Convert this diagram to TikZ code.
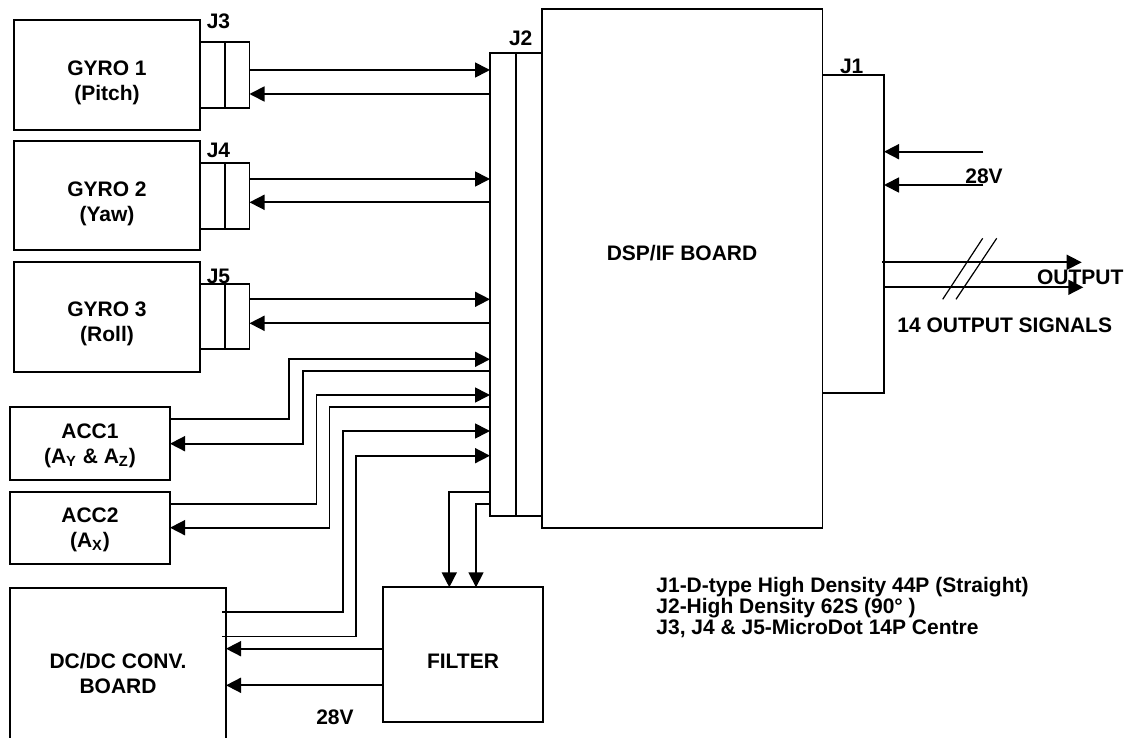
\documentclass[tikz,border=0pt]{standalone}
\usepackage{fontspec}
\setmainfont{Liberation Sans}
\usetikzlibrary{arrows.meta}

\tikzset{
    blk/.style={draw, line width=0.85pt, rectangle, inner sep=0pt, outer sep=0pt, anchor=north west},
    txt/.style={font=\bfseries\fontsize{10.5}{12.5}\selectfont, align=center, inner sep=0pt},
    note/.style={font=\bfseries\fontsize{10.5}{10}\selectfont, inner sep=0pt, anchor=base west},
    sig/.style={line width=0.85pt, -{Triangle[length=7.5pt,width=7.5pt]}},
    wire/.style={line width=0.85pt},
    bus/.style={line width=0.6pt},
}

\begin{document}
\begin{tikzpicture}[x=0.5pt, y=-0.5pt]
    % Frame (pixel grid of the drawing, y going down)
    \useasboundingbox (0,0) rectangle (1126,738);
    \clip (0,0) rectangle (1126,738);

    % Sensor boxes
    \node[blk, minimum width=93pt, minimum height=55pt] (gyroA) at (14,20) {};
    \node[blk, minimum width=93pt, minimum height=54.5pt] (gyroB) at (14,141) {};
    \node[blk, minimum width=93pt, minimum height=55pt] (gyroC) at (14,262) {};
    \node[blk, minimum width=80pt, minimum height=36.35pt] (acca) at (10,407.3) {};
    \node[blk, minimum width=80pt, minimum height=36pt] (accb) at (10,492) {};

    % Power boxes (DC/DC runs off the bottom)
    \node[blk, minimum width=108pt, minimum height=85pt] (dcdc) at (10,588.3) {};
    \node[blk, minimum width=80pt, minimum height=67.5pt] (filter) at (383,587.3) {};

    % Connectors J3, J4, J5
    \node[blk, minimum width=24.75pt, minimum height=33pt] (jthree) at (200,42) {};
    \node[blk, minimum width=24.75pt, minimum height=33pt] (jfour) at (200,163) {};
    \node[blk, minimum width=24.75pt, minimum height=32.5pt] (jfive) at (200,284) {};
    \draw[wire] (jthree.north) -- (jthree.south);
    \draw[wire] (jfour.north) -- (jfour.south);
    \draw[wire] (jfive.north) -- (jfive.south);

    % Main board with J2 and J1
    \node[blk, minimum width=140.25pt, minimum height=259.2pt] (dsp) at (542,9.3) {};
    \node[blk, minimum width=26pt, minimum height=231.5pt] (jtwo) at (490,52.7) {};
    \draw[wire] (jtwo.north) -- (jtwo.south);
    \node[blk, minimum width=30.75pt, minimum height=159.15pt] (jone) at (822.5,75) {};

    % Box texts
    \node[txt] (gyroAtxt) at ([yshift=-4pt]gyroA.center) {GYRO 1\\(Pitch)};
    \node[txt] (gyroBtxt) at ([yshift=-4pt]gyroB.center) {GYRO 2\\(Yaw)};
    \node[txt] (gyroCtxt) at ([yshift=-3.5pt]gyroC.center) {GYRO 3\\(Roll)};
    \node[txt] (accatxt) at ([yshift=-1pt]acca.center) {ACC1\\(A\textsubscript{Y} \& A\textsubscript{Z})};
    \node[txt] (accbtxt) at ([yshift=-1pt]accb.center) {ACC2\\(A\textsubscript{X})};
    \node[txt] (dcdctxt) at (dcdc.center) {DC/DC CONV.\\BOARD};
    \node[txt] (filtertxt) at ([yshift=-3pt]filter.center) {FILTER};
    \node[txt] (dsptxt) at (682,253.3) {DSP/IF BOARD};

    % Connector labels
    \node[txt] (jthreelbl) at (218.5,21.7) {J3};
    \node[txt] (jfourlbl) at (218.5,150) {J4};
    \node[txt] (jfivelbl) at (218.5,276.7) {J5};
    \node[txt] (jtwolbl) at (520.7,38.3) {J2};
    \node[txt] (jonelbl) at (851.7,66.7) {J1};

    % Gyro links to J2
    \draw[sig] (jthree.east |- 0,70) -- (jtwo.west |- 0,70);
    \draw[sig] (jtwo.west |- 0,94) -- (jthree.east |- 0,94);
    \draw[sig] (jfour.east |- 0,179) -- (jtwo.west |- 0,179);
    \draw[sig] (jtwo.west |- 0,202.3) -- (jfour.east |- 0,202.3);
    \draw[sig] (jfive.east |- 0,299.3) -- (jtwo.west |- 0,299.3);
    \draw[sig] (jtwo.west |- 0,323.3) -- (jfive.east |- 0,323.3);

    % Accelerometer links
    \draw[sig] (acca.east |- 0,419.3) -| (289.3,359.3) -- (jtwo.west |- 0,359.3);
    \draw[sig] (jtwo.west |- 0,371) -| (303.2,443.7) -- (acca.east |- 0,443.7);
    \draw[sig] (accb.east |- 0,503.7) -| (316.4,395) -- (jtwo.west |- 0,395);
    \draw[sig] (jtwo.west |- 0,407.3) -| (329.6,527.7) -- (accb.east |- 0,527.7);

    % Supply links
    \draw[sig] ([xshift=-2pt]dcdc.east |- 0,612.3) -| (342.8,431) -- (jtwo.west |- 0,431);
    \draw[sig] ([xshift=-2pt]dcdc.east |- 0,636.5) -| (356,455.7) -- (jtwo.west |- 0,455.7);
    \draw[sig] (jtwo.west |- 0,492) -| (filter.north -| 449.3,0);
    \draw[sig] (jtwo.west |- 0,503.7) -| (filter.north -| 476,0);
    \draw[sig] (filter.west |- 0,648.7) -- (dcdc.east |- 0,648.7);
    \draw[sig] (filter.west |- 0,685.3) -- (dcdc.east |- 0,685.3);
    \node[txt] (filtervlt) at (335,717.3) {28V};

    % J1 side: 28V in, outputs
    \coordinate (pwrA) at (983.3,151.7);
    \coordinate (pwrB) at (983.3,185);
    \draw[sig] (pwrA) -- (jone.east |- pwrA);
    \draw[sig] (pwrB) -- (jone.east |- pwrB);
    \node[txt] (jonevlt) at (984,176.7) {28V};

    \coordinate (outA) at (1081.7,262.3);
    \coordinate (outB) at (1083.3,287.3);
    \draw[sig] ([xshift=-1pt]jone.east |- outA) -- (outA);
    \draw[sig] (jone.east |- outB) -- (outB);
    \draw[bus] (942.7,299.3) -- (982.7,238.3);
    \draw[bus] (956,299.3) -- (996.7,238.3);
    \node[txt] (outlbl) at (1080.3,277.3) {OUTPUT};
    \node[txt] (outcount) at (1004.7,325) {14 OUTPUT SIGNALS};

    % Connector notes
    \node[note] (noteA) at (656,592) {J1-D-type High Density 44P (Straight)};
    \node[note] (noteB) at (656,613) {J2-High Density 62S (90° )};
    \node[note] (noteC) at (656,634) {J3, J4 \& J5-MicroDot 14P Centre};
\end{tikzpicture}
\end{document}
